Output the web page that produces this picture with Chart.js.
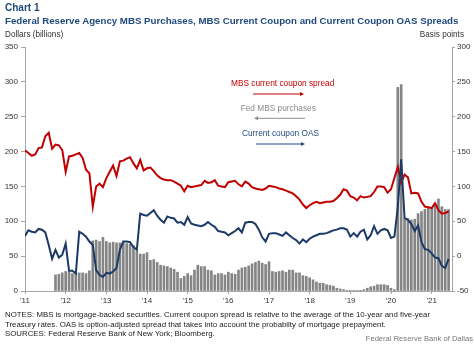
<!DOCTYPE html>
<html>
<head>
<meta charset="utf-8">
<script src="https://cdn.jsdelivr.net/npm/chart.js@4"></script>
<style>
   html, body { margin: 0; padding: 0; background: #fff; }
   #wrap { position: relative; width: 474px; height: 344px; font-family: "Liberation Sans", Arial, sans-serif; }
   #wrap canvas { position: absolute; left: 0; top: 0; }
   .txt { position: absolute; white-space: nowrap; line-height: 1; }
   .title { color: #1f497d; font-weight: bold; font-size: 9.7px; left: 5px; }
   .unit { color: #333; font-size: 8.2px; top: 30.8px; }
   .note { color: #222; font-size: 7.85px; left: 5px; }
   .lab { font-size: 8.3px; }
</style>
</head>
<body>
<div id="wrap">
   <canvas id="chart1" width="474" height="344"></canvas>
   <div class="txt title" style="top:3.3px;font-size:10px">Chart 1</div>
   <div class="txt title" style="top:15.5px">Federal Reserve Agency MBS Purchases, MBS Current Coupon and Current Coupon OAS Spreads</div>
   <div class="txt unit" style="left:5px">Dollars (billions)</div>
   <div class="txt unit" style="right:10px">Basis points</div>
   <div class="txt lab" style="left:231px;top:79.3px;color:#c00000">MBS current coupon spread</div>
   <div class="txt lab" style="left:240.7px;top:103.7px;color:#8c8c8c">Fed MBS purchases</div>
   <div class="txt lab" style="left:242px;top:129.3px;color:#1f497d">Current coupon OAS</div>
   <div class="txt note" style="top:310.6px">NOTES: MBS is mortgage-backed securities. Current coupon spread is relative to the average of the 10-year and five-year</div>
   <div class="txt note" style="top:320.6px">Treasury rates. OAS is option-adjusted spread that takes into account the probabilty of mortgage prepayment.</div>
   <div class="txt note" style="top:330.2px">SOURCES: Federal Reserve Bank of New York; Bloomberg.</div>
   <div class="txt note" style="left:auto;right:1px;top:335.3px;color:#777;font-size:7.6px">Federal Reserve Bank of Dallas</div>
</div>
<script>
/*=================================>> DATA  <<=================================*/
// monthly, Jan 2011 .. Jun 2021

const yearLabels = ["'11", "'12", "'13", "'14", "'15", "'16", "'17", "'18", "'19", "'20", "'21"];

// MBS current coupon spread, basis points (right axis)
const spread = [
   152, 148, 144, 146, 155, 156, 172, 177, 154, 160, 159, 152,
   121, 143, 144, 146, 148, 141, 124, 119, 71, 100, 104, 99,
   112, 121, 130, 115, 136, 137, 140, 142, 133, 126, 138, 123,
   126, 127, 122, 116, 112, 110, 109, 109, 107, 104, 101, 93,
   101, 99, 100, 101, 102, 108, 105, 106, 109, 101, 100, 99,
   106, 107, 108, 103, 100, 107, 104, 99, 97, 96, 95, 97,
   101, 100, 99, 97, 96, 94, 92, 90, 86, 81, 74, 69,
   73, 76, 78, 76, 77, 78, 78, 79, 83, 88, 96, 94,
   86, 84, 80, 86, 84, 85, 86, 92, 100, 100, 99, 91,
   96, 112, 128, 105, 117, 113, 90, 91, 90, 78, 71, 70,
   69, 76, 66, 61, 62, 64
];

// current coupon OAS, basis points (right axis)
const oas = [
   29, 37, 35, 34, 39, 38, 34, 16, -4, 9, -2, 2,
   18, -21, -21, -25, 35, 32, 28, 21, 16, -20, -27, -30,
   -24, -25, -22, -17, 9, 21, 21, 20, 13, 9, 61, 59,
   58, 62, 66, 58, 52, 48, 57, 55, 54, 48, 49, 45,
   56, 47, 45, 44, 43, 45, 49, 45, 42, 36, 35, 34,
   30, 33, 36, 40, 34, 48, 49, 49, 46, 38, 27, 21,
   32, 33, 33, 31, 29, 34, 30, 26, 23, 18, 24, 20,
   25, 28, 30, 32, 32, 33, 35, 37, 38, 40, 40, 38,
   28, 33, 28, 35, 38, 24, 30, 43, 32, 37, 39, 37,
   26, 28, 70, 139, 55, 52, 46, 36, 44, 20, 10, 9,
   4, -2, -3, -14, -17, -4
];

// Fed agency MBS purchases, billions of dollars (left axis)
const purchases = [
   null, null, null, null, null, null, null, null, null, 23, 24, 26,
   28, 28, 25, 27, 26, 26, 25, 29, 72, 73, 71, 77,
   71, 69, 70, 69, 69, 70, 68, 67, 65, 57, 53, 53,
   55, 44, 45, 41, 37, 36, 35, 33, 31, 27, 18, 21,
   25, 22, 30, 37, 35, 35, 30, 29, 23, 25, 25, 23,
   27, 25, 24, 30, 33, 34, 36, 39, 41, 43, 40, 38,
   42, 28, 27, 28, 29, 27, 30, 30, 26, 26, 22, 21,
   19, 16, 13, 11, 11, 9, 8, 7, 4, 3, 2, 1,
   1, 1, 1, 1, 2, 4, 6, 7, 9, 9, 9, 8,
   4, 2, 292, 296, 104, 104, 102, 103, 111, 114, 117, 119,
   120, 124, 132, 121, 117, 117
];

const toPoints = (arr) => arr.map((v, i) => ({ x: i, y: v }));

/*=================================>> CHART  <<=================================*/

const axisGrey = '#a6a6a6';
const tickFont = { size: 8, family: '"Liberation Sans", Arial, sans-serif' };

// little arrows of the in-chart key
const keyArrows = {
   id: 'keyArrows',
   afterDraw(chart) {
      const ctx = chart.ctx;
      const arrows = [
         { x1: 253, x2: 304, y: 94, color: '#c00000' },
         { x1: 305, x2: 254, y: 118.3, color: '#8c8c8c' },
         { x1: 256, x2: 305, y: 144, color: '#1f497d' },
      ];
      ctx.save();
      arrows.forEach(a => {
         const dir = a.x2 > a.x1 ? 1 : -1;
         ctx.strokeStyle = a.color;
         ctx.fillStyle = a.color;
         ctx.lineWidth = 1;
         ctx.beginPath();
         ctx.moveTo(a.x1, a.y);
         ctx.lineTo(a.x2 - dir * 3, a.y);
         ctx.stroke();
         ctx.beginPath();
         ctx.moveTo(a.x2, a.y);
         ctx.lineTo(a.x2 - dir * 4, a.y - 2);
         ctx.lineTo(a.x2 - dir * 4, a.y + 2);
         ctx.closePath();
         ctx.fill();
      });
      ctx.restore();
   }
};

const config = {
   type: 'bar',
   data: {
      datasets: [
         {
            type: 'line',
            label: 'Current coupon OAS',
            data: toPoints(oas),
            yAxisID: 'y1',
            borderColor: '#1b3a66',
            borderWidth: 2,
            pointRadius: 0,
            tension: 0,
            order: 0,
         },
         {
            type: 'line',
            label: 'MBS current coupon spread',
            data: toPoints(spread),
            yAxisID: 'y1',
            borderColor: '#c00000',
            borderWidth: 2,
            pointRadius: 0,
            tension: 0,
            order: 1,
         },
         {
            type: 'bar',
            label: 'Fed MBS purchases',
            data: toPoints(purchases),
            yAxisID: 'y',
            backgroundColor: '#858585',
            barThickness: 2,
            order: 2,
         },
      ]
   },
   options: {
      responsive: false,
      animation: false,
      events: [],
      layout: { padding: { top: 47, bottom: 33, left: 0, right: 0 } },
      plugins: {
         legend: { display: false },
         tooltip: { enabled: false },
      },
      scales: {
         x: {
            type: 'linear',
            min: 0,
            max: 126,
            offset: false,
            grid: { drawOnChartArea: false, offset: false, color: axisGrey, tickLength: 3 },
            border: { color: axisGrey },
            afterBuildTicks: (scale) => {
               scale.ticks = yearLabels.map((l, i) => ({ value: i * 12 }));
            },
            afterFit: (scale) => { scale.height = 20; },
            ticks: {
               padding: 2,
               maxRotation: 0,
               autoSkip: false,
               color: '#333',
               font: tickFont,
               callback: (value) => yearLabels[value / 12],
            },
         },
         y: {
            position: 'left',
            min: 0,
            max: 350,
            grid: { drawOnChartArea: false, color: axisGrey, tickLength: 4 },
            border: { color: axisGrey },
            afterFit: (scale) => { scale.width = 25; },
            ticks: { stepSize: 50, padding: 3, color: '#333', font: tickFont },
         },
         y1: {
            position: 'right',
            min: -50,
            max: 300,
            grid: { drawOnChartArea: false, color: axisGrey, tickLength: 3 },
            border: { color: axisGrey },
            afterFit: (scale) => { scale.width = 22; },
            ticks: { stepSize: 50, padding: 2, color: '#333', font: tickFont },
         },
      }
   },
   plugins: [keyArrows],
};

new Chart(document.querySelector('#chart1'), config);
</script>
</body>
</html>
